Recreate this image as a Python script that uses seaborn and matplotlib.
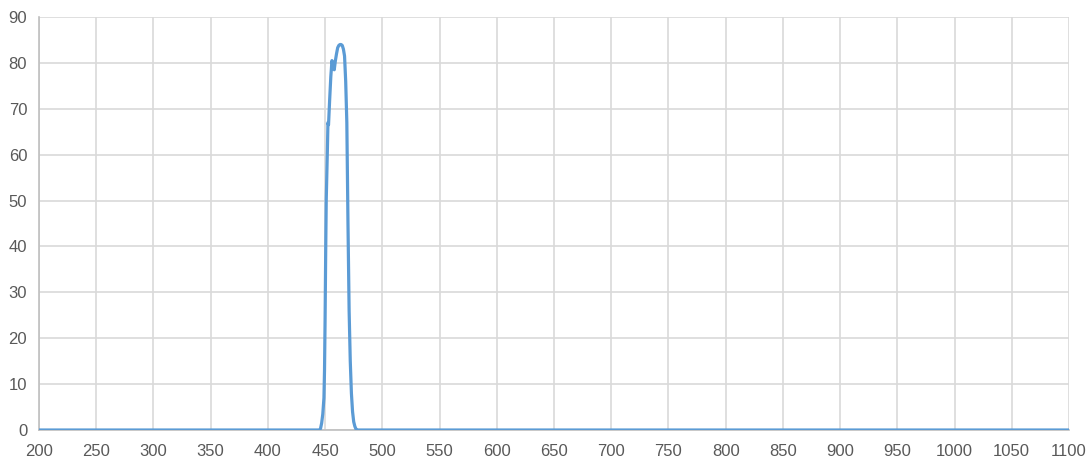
import numpy as np
import pandas as pd
import matplotlib
matplotlib.use("Agg")
import matplotlib.pyplot as plt
import seaborn as sns

# ── data ──────────────────────────────────────────────────────────────────────

wavelength = [200, 445, 446, 447, 448, 449, 449.5, 450, 450.5, 451, 452, 452.5,
              453, 454, 455, 456, 457, 458, 459, 460, 461, 462, 463, 464, 465,
              466, 467, 468, 469, 470, 471, 472, 473, 474, 475, 476, 477, 478,
              480, 1100]
transmission = [0, 0, 0.3, 1.5, 3.5, 7, 13, 24, 38, 50, 61, 67,
                66.5, 72, 77, 80.5, 79, 78.5, 80.5, 82, 83.3, 83.8, 84, 84, 83.8,
                83, 81.5, 76, 67, 45, 26, 15, 8, 4, 1.8, 0.8, 0.2, 0,
                0, 0]

x_ticks = list(range(200, 1101, 50))
y_ticks = list(range(0, 91, 10))

sns.set_theme(style="whitegrid")
plt.rcParams["font.family"] = ["Liberation Sans", "DejaVu Sans"]

df = pd.DataFrame({"wavelength": wavelength, "transmission": transmission})

fig = plt.figure(figsize=(10.92, 4.68), dpi=100)
ax = fig.add_axes([0.0357, 0.0812, 0.9432, 0.8825])

sns.lineplot(data=df, x="wavelength", y="transmission", ax=ax,
             color="#5B9BD5", linewidth=2.3, zorder=3)

ax.set_xlim(200, 1100)
ax.set_ylim(0, 90)
ax.set_xticks(x_ticks)
ax.set_yticks(y_ticks)
ax.set_xlabel("")
ax.set_ylabel("")
ax.grid(True, color="#d9d9d9", linewidth=1.2)
ax.tick_params(axis="both", length=0, labelsize=12, colors="#595959")
ax.tick_params(axis="x", pad=10)
ax.tick_params(axis="y", pad=8.5)

for side in ["top", "right"]:
    ax.spines[side].set_visible(False)
for side in ["left", "bottom"]:
    ax.spines[side].set_color("#bfbfbf")
    ax.spines[side].set_linewidth(1.2)

fig.savefig("out.png", dpi=100, facecolor="white")
